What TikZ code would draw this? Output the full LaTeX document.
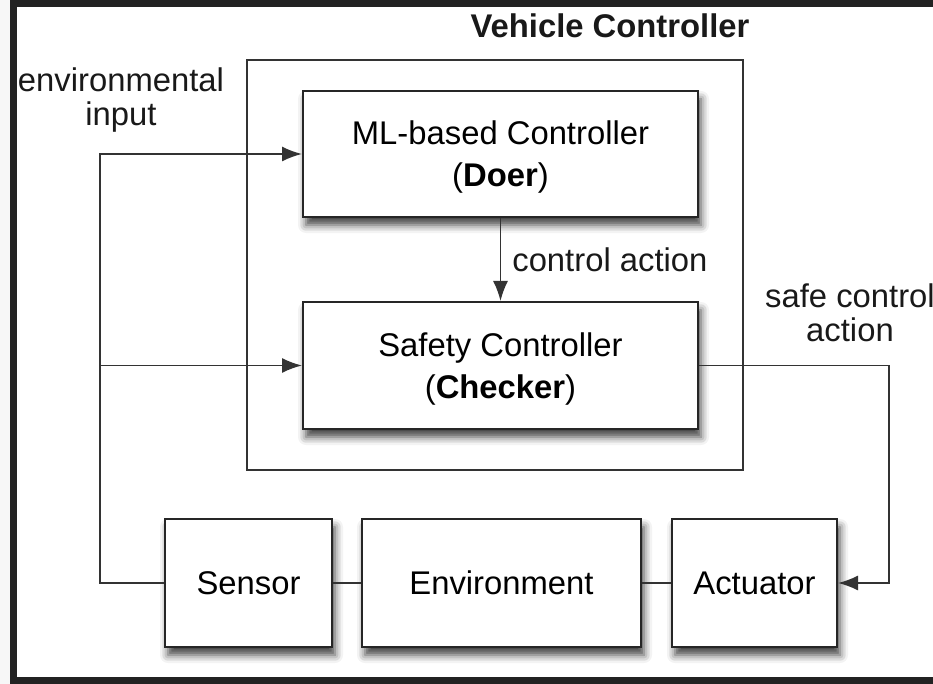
\documentclass[tikz,border=0pt]{standalone}
\usepackage{fontspec}
\setmainfont{Liberation Sans}
\usetikzlibrary{arrows.meta,shadows.blur}
\definecolor{framegray}{HTML}{222222}
\definecolor{linegray}{HTML}{333333}

\begin{document}
\begin{tikzpicture}[x=0.5pt, y=-0.5pt,
    block/.style={draw=black!85, line width=1pt, fill=white, minimum height=63pt,
        inner sep=0pt, align=center, font=\fontsize{16.4}{21}\selectfont,
        blur shadow={shadow xshift=1.5pt, shadow yshift=-4pt, shadow blur radius=4pt, shadow opacity=75}},
    wire/.style={draw=linegray, line width=0.85pt},
    arr/.style={wire, -{Latex[length=10pt,width=7.5pt]}},
    lbl/.style={align=center, inner sep=0pt, font=\fontsize{16.4}{16.8}\selectfont, text=black!90}]
    \useasboundingbox (0,0) rectangle (933,684);
    % screenshot frame
    \fill[gray!6] (0,0) rectangle (10,684);
    \fill[framegray] (10,0) rectangle (933,7);
    \fill[framegray] (10,0) rectangle (17,684);
    \fill[framegray] (10,677) rectangle (933,684);

    % vehicle controller
    \node[wire, minimum width=248pt, minimum height=205pt] (vc) at (495,265) {};
    \node[lbl, font=\fontsize{16.4}{16.8}\selectfont\bfseries] (vctitle) at (610,26) {Vehicle Controller};
    \node[block, minimum width=197.5pt] (doer) at (500.5,154) {\rule{0pt}{15pt}ML-based Controller\\(\textbf{Doer})};
    \node[block, minimum width=197.5pt, minimum height=63.5pt] (checker) at (500.5,365.5) {\rule{0pt}{15pt}Safety Controller\\(\textbf{Checker})};

    % plant
    \node[block, minimum width=83.5pt, minimum height=64pt] (sensor) at (248.5,583) {Sensor};
    \node[block, minimum width=139.5pt, minimum height=64pt] (env) at (501.5,583) {Environment};
    \node[block, minimum width=82.5pt, minimum height=64pt] (act) at (754.5,583) {Actuator};

    % labels
    \node[lbl] (envlbl) at (121,100) {environmental\\input};
    \node[lbl] (safelbl) at (850,313) {safe control\\action};

    % connectors
    \coordinate (inleft) at (100,154);
    \coordinate (outright) at (889,365.5);
    \draw[arr] (sensor.west) -| (inleft) -- (doer.west);
    \draw[arr] (inleft |- checker.west) -- (checker.west);
    \draw[arr] (doer.south) -- (checker.north) node[midway, right=5.5pt, lbl] (ctrllbl) {control action};
    \draw[arr] (checker.east) -- (outright) |- (act.east);
    \draw[wire] (sensor.east) -- (env.west);
    \draw[wire] (env.east) -- (act.west);
\end{tikzpicture}
\end{document}
